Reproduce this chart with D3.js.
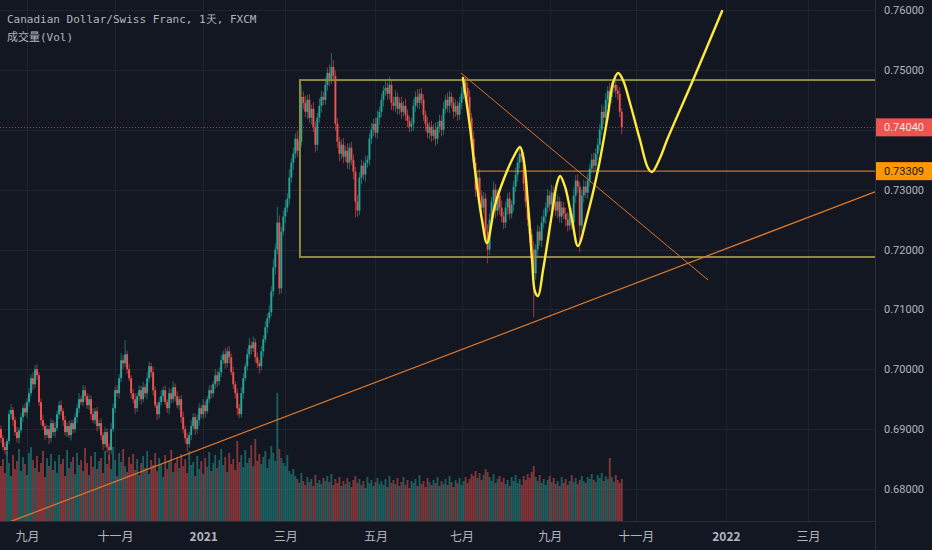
<!DOCTYPE html>
<html>
<head>
<meta charset="utf-8">
<script src="https://cdn.jsdelivr.net/npm/d3@7/dist/d3.min.js"></script>
<style>
html, body { margin: 0; padding: 0; background: #131722; overflow: hidden; }
</style>
</head>
<body>
<div id="chart"></div>
<script>
// daily closes, CADCHF, first bar 2020-08-13 (open of that bar below)
let firstOpen = 0.6900;
let closes = [
    0.6885, 0.6870, 0.6865, 0.6880, 0.6925, 0.6932, 0.6915, 0.6895, 0.6885, 0.6898,
    0.6920, 0.6935, 0.6928, 0.6945, 0.6960, 0.6985, 0.6975, 0.7000, 0.6990, 0.6945,
    0.6915, 0.6905, 0.6890, 0.6900, 0.6885, 0.6910, 0.6895, 0.6902, 0.6925, 0.6940,
    0.6930, 0.6915, 0.6895, 0.6905, 0.6890, 0.6910, 0.6900, 0.6920, 0.6935, 0.6950,
    0.6945, 0.6965, 0.6955, 0.6940, 0.6950, 0.6925, 0.6915, 0.6930, 0.6905, 0.6910,
    0.6890, 0.6875, 0.6895, 0.6870, 0.6865, 0.6900, 0.6935, 0.6965, 0.6960, 0.6985,
    0.7015, 0.7010, 0.7025, 0.7000, 0.6985, 0.6960, 0.6950, 0.6935, 0.6955, 0.6965,
    0.6950, 0.6970, 0.6960, 0.6985, 0.7005, 0.6995, 0.6965, 0.6940, 0.6925, 0.6945,
    0.6955, 0.6965, 0.6945, 0.6935, 0.6960, 0.6950, 0.6970, 0.6955, 0.6940, 0.6950,
    0.6920, 0.6900, 0.6885, 0.6875, 0.6890, 0.6905, 0.6920, 0.6900, 0.6915, 0.6935,
    0.6925, 0.6940, 0.6930, 0.6950, 0.6965, 0.6960, 0.6975, 0.6990, 0.6980, 0.6995,
    0.7015, 0.7025, 0.7010, 0.7030, 0.7020, 0.6995, 0.6975, 0.6960, 0.6935, 0.6925,
    0.6960, 0.6985, 0.7005, 0.7025, 0.7040, 0.7035, 0.7045, 0.7020, 0.7010, 0.7005,
    0.7030, 0.7050, 0.7070, 0.7085, 0.7095, 0.7130, 0.7170, 0.7200, 0.7245, 0.7135,
    0.7230, 0.7255, 0.7270, 0.7285, 0.7320, 0.7345, 0.7360, 0.7385, 0.7365, 0.7380,
    0.7455, 0.7445, 0.7430, 0.7450, 0.7420, 0.7435, 0.7405, 0.7375, 0.7420, 0.7440,
    0.7455, 0.7450, 0.7475, 0.7495, 0.7485, 0.7505, 0.7490, 0.7410, 0.7380, 0.7360,
    0.7375, 0.7355, 0.7365, 0.7345, 0.7370, 0.7350, 0.7330, 0.7280, 0.7265, 0.7320,
    0.7340, 0.7325, 0.7345, 0.7350, 0.7385, 0.7400, 0.7410, 0.7395, 0.7420, 0.7430,
    0.7450, 0.7465, 0.7470, 0.7460, 0.7475, 0.7445, 0.7440, 0.7455, 0.7435, 0.7445,
    0.7430, 0.7440, 0.7425, 0.7415, 0.7405, 0.7410, 0.7440, 0.7455, 0.7445, 0.7460,
    0.7450, 0.7425, 0.7410, 0.7395, 0.7405, 0.7390, 0.7400, 0.7385, 0.7405, 0.7415,
    0.7400, 0.7435, 0.7450, 0.7440, 0.7455, 0.7445, 0.7430, 0.7440, 0.7425, 0.7445,
    0.7460, 0.7480, 0.7470, 0.7455, 0.7420, 0.7385, 0.7345, 0.7300, 0.7320, 0.7290,
    0.7270, 0.7285, 0.7230, 0.7200, 0.7250, 0.7280, 0.7300, 0.7265, 0.7290, 0.7270,
    0.7255, 0.7245, 0.7270, 0.7285, 0.7260, 0.7275, 0.7305, 0.7325, 0.7345, 0.7360,
    0.7355, 0.7310, 0.7280, 0.7250, 0.7225, 0.7200, 0.7160, 0.7200, 0.7230, 0.7215,
    0.7245, 0.7255, 0.7270, 0.7290, 0.7275, 0.7295, 0.7280, 0.7265, 0.7280, 0.7255,
    0.7270, 0.7260, 0.7250, 0.7240, 0.7260, 0.7245, 0.7290, 0.7315, 0.7305, 0.7240,
    0.7290, 0.7305, 0.7295, 0.7315, 0.7335, 0.7350, 0.7340, 0.7360, 0.7375, 0.7400,
    0.7430, 0.7420, 0.7450, 0.7465, 0.7455, 0.7470, 0.7475, 0.7465, 0.7460, 0.7430,
    0.7404
];
// wick above the body / below the body, in pips
let wickUp = [
    6,5,8,4,7,10,5,6,9,5, 7,5,8,6,9,6,10,7,8,5, 6,9,5,7,6,8,5,10,6,7,
    8,5,7,6,9,5,6,8,7,10, 6,9,7,5,8,6,10,5,7,6, 8,5,9,6,7,10,8,6,9,7,
    12,8,24,6,9,5,7,10,6,8, 7,9,5,10,8,6,9,7,5,8, 10,6,8,5,9,7,10,6,8,5,
    7,9,6,8,5,10,7,6,9,8, 6,10,7,5,8,9,6,10,7,8, 9,6,10,7,8,6,9,5,8,7,
    10,8,6,9,12,7,10,6,8,5, 9,7,10,8,12,9,14,10,26,12, 8,10,12,9,14,8,11,9,13,10,
    20,9,12,8,10,7,11,9,8,12, 10,8,12,9,14,23,11,9,10,8, 9,11,8,12,7,10,9,8,11,9,
    10,8,12,7,9,11,8,10,12,9, 10,8,12,9,14,8,10,11,7,9, 10,8,12,9,7,10,11,9,13,8,
    10,9,7,11,8,10,9,12,8,10, 9,11,8,12,10,7,9,11,8,10, 12,8,10,9,11,8,12,9,10,14,
    8,11,9,12,10,8,14,9,11,10, 12,8,10,9,11,7,10,12,9,14, 10,8,11,9,12,10,14,9,11,8,
    10,12,9,11,8,13,10,9,12,8, 11,9,10,12,8,10,13,9,11,8, 10,12,9,11,8,10,12,9,11,10,
    12,9,11,8,13,9,8,10,9,11, 6
];
let wickDown = [
    8,6,7,9,5,8,10,6,7,9, 5,8,6,9,7,5,10,6,8,7, 9,6,8,5,10,7,6,9,5,8,
    7,10,6,8,5,9,7,6,10,8, 5,7,9,6,8,10,5,7,9,6, 8,10,6,9,17,7,5,8,6,9,
    7,10,6,8,5,9,7,10,6,8, 9,5,7,10,6,8,9,5,10,7, 6,9,5,8,10,7,6,9,5,8,
    10,7,9,12,6,8,5,10,7,9, 6,8,10,5,7,9,6,8,10,7, 8,6,9,7,10,5,8,9,12,7,
    6,9,5,8,7,10,6,9,8,12, 7,9,6,10,8,7,9,12,8,10, 9,7,11,8,10,9,12,8,10,11,
    8,10,9,12,8,11,9,13,10,8, 11,9,8,10,12,9,8,11,10,13, 9,11,8,10,12,9,13,26,10,8,
    11,9,12,8,10,9,11,8,10,12, 9,11,8,10,9,12,8,11,10,9, 12,8,10,11,9,8,12,10,9,11,
    8,10,12,9,11,10,8,12,9,10, 11,9,8,10,12,9,11,8,10,9, 10,9,12,8,11,13,10,12,9,11,
    14,10,12,23,9,11,10,13,8,12, 10,11,9,12,10,8,11,9,12,10, 9,12,10,11,13,9,73,10,12,9,
    11,10,12,9,11,10,12,9,13,10, 11,9,12,10,8,11,9,12,10,45, 10,12,9,11,10,8,12,9,11,10,
    9,11,10,12,9,10,8,11,10,9, 12
];
// volume, thousands
let volumes = [
    55,62,48,70,58,45,66,52,60,72, 50,64,57,46,68,74,61,53,65,49, 58,70,44,63,55,67,51,60,48,66,
    57,62,45,71,53,59,64,47,68,56, 61,50,73,58,46,65,54,69,52,60, 63,48,70,57,66,52,74,61,45,68,
    59,72,55,49,64,57,67,51,62,46, 58,65,53,70,47,61,56,68,50,63, 57,44,66,52,60,71,49,58,64,53,
    67,55,62,48,70,56,59,45,65,52, 60,47,63,54,69,50,58,66,53,61, 72,56,64,49,68,57,62,51,80,59,
    66,54,71,58,63,76,55,82,60,67, 57,64,70,53,62,75,68,60,128,72, 63,58,55,66,50,47,52,45,42,38,
    48,40,36,44,39,42,35,46,38,41, 37,43,40,45,39,47,36,42,38,44, 35,40,37,43,39,34,41,45,38,42,
    36,40,33,44,38,41,35,39,43,37, 40,36,42,34,45,38,41,37,43,35, 39,44,36,41,33,40,38,42,35,46,
    37,40,34,43,39,36,41,38,44,35, 40,37,42,36,45,39,34,41,38,43, 36,40,44,38,42,47,45,50,43,48,
    41,46,52,49,44,40,47,38,42,45, 39,43,37,41,35,44,40,46,38,42, 36,45,41,47,43,49,55,44,40,46,
    38,42,36,41,45,39,43,37,40,35, 44,38,42,36,40,46,39,43,37,41, 45,40,38,44,42,47,41,39,46,43,
    48,40,45,42,63,44,39,46,41,38, 42
];

let priceTicks = [0.68, 0.69, 0.70, 0.71, 0.72, 0.73, 0.74, 0.75, 0.76];
let monthNames = ["一月","二月","三月","四月","五月","六月","七月","八月","九月","十月","十一月","十二月"];
let titleText = "Canadian Dollar/Swiss Franc, 1天, FXCM";
let volText = "成交量(Vol)";

// drawings, as [bar index, price]
let boxCorners = [[149.3, 0.7483], [436, 0.71875]];
let levelLine = [[237.7, 0.73309]];
let trendUp = [[5.5, 0.67466], [436.4, 0.72961]];
let trendDown = [[229.7, 0.74948], [353.1, 0.71491]];
let scenario = [
    [230.7,0.74864],[234.2,0.74046],[236.7,0.73328],[240.2,0.72493],[242.7,0.72109],
    [246.7,0.72744],[251.7,0.73228],[256.2,0.73562],[259.2,0.73712],[261.2,0.73462],
    [263.2,0.72744],[265.2,0.71825],[266.7,0.71291],[268.2,0.71224],[270.7,0.71658],
    [275.2,0.72610],[277.7,0.73111],[279.2,0.73228],[281.7,0.73044],[285.2,0.72493],
    [288.1,0.72059],[292.6,0.72543],[298.1,0.73328],[303.1,0.74247],[305.6,0.74781],
    [308.2,0.74948],[310.6,0.74831],[314.1,0.74447],[319.1,0.73829],[323.1,0.73361],
    [325.1,0.73295],[329.1,0.73528],[332.6,0.73829],[345.6,0.74831],[360.1,0.75983]
];

function config(){
    let width = 932;
    let height = 550;
    let paneW = 875;
    let paneH = 521;
    let svg = d3.select("#chart")
                .append("svg")
                .attr("width", width)
                .attr("height", height)
                .style("display", "block")
                .style("background", "#131722");
    return { width, height, paneW, paneH, svg };
}

function buildBars(){
    let prev = firstOpen;
    return closes.map(function(c, i){
        let o = prev;
        prev = c;
        return {
            i: i,
            o: o,
            c: c,
            h: Math.max(o, c) + wickUp[i] / 10000,
            l: Math.min(o, c) - wickDown[i] / 10000,
            v: volumes[i],
            up: c >= o
        };
    });
}

function buildDates(n){
    let dates = [];
    let d = new Date(2020, 7, 13);
    while (dates.length < n){
        let wd = d.getDay();
        if (wd != 0 && wd != 6) dates.push(new Date(d));
        d.setDate(d.getDate() + 1);
    }
    return dates;
}

function scales(cfg){
    let x = d3.scaleLinear().domain([13, 403]).range([27, 808]);
    let y = d3.scaleLinear().domain([0.68, 0.76]).range([489, 10]);
    let yVol = d3.scaleLinear().domain([0, d3.max(volumes)]).range([cfg.paneH, cfg.paneH - 128]);
    return { x, y, yVol };
}

function draw(cfg, sc, bars){
    let { svg, paneW, paneH, width, height } = cfg;
    let { x, y, yVol } = sc;
    let bw = 1.9;

    svg.append("clipPath").attr("id", "pane")
        .append("rect").attr("width", paneW).attr("height", paneH);

    let dates = buildDates(460);
    let tickIdx = [];
    for (let i = 1; i < dates.length; i++){
        let m = dates[i].getMonth();
        if (m != dates[i-1].getMonth() && m % 2 == 0 && x(i) < paneW) tickIdx.push(i);
    }

    let pane = svg.append("g").attr("clip-path", "url(#pane)");

    // grid
    pane.selectAll(".hg").data(priceTicks).enter().append("line")
        .attr("x1", 0).attr("x2", paneW)
        .attr("y1", d => Math.round(y(d)) + 0.5).attr("y2", d => Math.round(y(d)) + 0.5)
        .attr("stroke", "#1f2330");
    pane.selectAll(".vg").data(tickIdx).enter().append("line")
        .attr("y1", 0).attr("y2", paneH)
        .attr("x1", d => Math.round(x(d)) + 0.5).attr("x2", d => Math.round(x(d)) + 0.5)
        .attr("stroke", "#1f2330");

    // volume
    pane.selectAll(".vol").data(bars).enter().append("rect")
        .attr("x", d => x(d.i) - bw / 2)
        .attr("width", bw)
        .attr("y", d => yVol(d.v))
        .attr("height", d => paneH - yVol(d.v))
        .attr("fill", d => d.up ? "rgba(38,166,154,0.5)" : "rgba(239,83,80,0.5)");

    // candles
    pane.selectAll(".wick").data(bars).enter().append("line")
        .attr("x1", d => x(d.i)).attr("x2", d => x(d.i))
        .attr("y1", d => y(d.h)).attr("y2", d => y(d.l))
        .attr("stroke", d => d.up ? "#26a69a" : "#ef5350")
        .attr("stroke-opacity", 0.6)
        .attr("stroke-width", 1);
    pane.selectAll(".body").data(bars).enter().append("rect")
        .attr("x", d => x(d.i) - bw / 2)
        .attr("width", bw)
        .attr("y", d => y(Math.max(d.o, d.c)))
        .attr("height", d => Math.max(1, Math.abs(y(d.o) - y(d.c))))
        .attr("fill", d => d.up ? "#26a69a" : "#ef5350");

    // last price line
    let last = bars[bars.length - 1];
    pane.append("line")
        .attr("x1", 0).attr("x2", paneW)
        .attr("y1", Math.round(y(last.c)) + 0.5).attr("y2", Math.round(y(last.c)) + 0.5)
        .attr("stroke", "rgba(239,83,80,0.7)")
        .attr("stroke-dasharray", "1,2");

    // box
    let bx = x(boxCorners[0][0]);
    let byTop = y(boxCorners[0][1]);
    let byBot = y(boxCorners[1][1]);
    pane.append("rect")
        .attr("x", bx).attr("y", byTop)
        .attr("width", x(boxCorners[1][0]) - bx + 20)
        .attr("height", byBot - byTop)
        .attr("fill", "none")
        .attr("stroke", "#8f8843")
        .attr("stroke-width", 2);

    // horizontal level
    pane.append("line")
        .attr("x1", x(levelLine[0][0])).attr("x2", paneW)
        .attr("y1", y(levelLine[0][1])).attr("y2", y(levelLine[0][1]))
        .attr("stroke", "#f08c22").attr("stroke-width", 1);

    // trend lines
    let slope = (trendUp[1][1] - trendUp[0][1]) / (trendUp[1][0] - trendUp[0][0]);
    let i0 = x.invert(0), i1 = x.invert(paneW);
    pane.append("line")
        .attr("x1", x(i0)).attr("y1", y(trendUp[0][1] + slope * (i0 - trendUp[0][0])))
        .attr("x2", x(i1)).attr("y2", y(trendUp[0][1] + slope * (i1 - trendUp[0][0])))
        .attr("stroke", "#e0782a").attr("stroke-width", 1.2);
    pane.append("line")
        .attr("x1", x(trendDown[0][0])).attr("y1", y(trendDown[0][1]))
        .attr("x2", x(trendDown[1][0])).attr("y2", y(trendDown[1][1]))
        .attr("stroke", "#d9732a").attr("stroke-width", 1);

    // scenario path
    pane.append("path")
        .datum(scenario)
        .attr("d", d3.line().x(d => x(d[0])).y(d => y(d[1])).curve(d3.curveCatmullRom.alpha(0.5)))
        .attr("fill", "none")
        .attr("stroke", "#ffeb3b")
        .attr("stroke-width", 2.4)
        .attr("stroke-linecap", "round");

    // borders
    svg.append("line").attr("x1", paneW + 0.5).attr("x2", paneW + 0.5).attr("y1", 0).attr("y2", height)
        .attr("stroke", "#2a2e39");
    svg.append("line").attr("x1", 0).attr("x2", paneW).attr("y1", paneH + 0.5).attr("y2", paneH + 0.5)
        .attr("stroke", "#2a2e39");

    // price labels
    let tags = [
        { p: last.c, fill: "#ef5350", color: "#f2e4e4" },
        { p: levelLine[0][1], fill: "#ff9800", color: "#131722" }
    ];

    // price axis (labels hidden by a tag are left out)
    let axisTicks = priceTicks.filter(p => tags.every(t => Math.abs(y(p) - y(t.p)) > 12));
    let pa = svg.append("g")
        .attr("transform", "translate(" + paneW + ",0)")
        .call(d3.axisRight(y).tickValues(axisTicks).tickSize(0).tickPadding(9).tickFormat(d3.format(".5f")));
    pa.select(".domain").remove();
    pa.selectAll("text")
        .attr("fill", "#b2b5be")
        .style("font-family", "Roboto, 'Liberation Sans', sans-serif")
        .style("font-size", "11px");

    // time axis
    let ta = svg.append("g")
        .attr("transform", "translate(0," + paneH + ")")
        .call(d3.axisBottom(x).tickValues(tickIdx).tickSize(0).tickPadding(11)
            .tickFormat(function(i){
                let dt = dates[i];
                return dt.getMonth() == 0 ? String(dt.getFullYear()) : monthNames[dt.getMonth()];
            }));
    ta.select(".domain").remove();
    ta.selectAll("text")
        .attr("fill", "#b2b5be")
        .style("font-family", "'Noto Sans CJK SC', Roboto, sans-serif")
        .style("font-size", "12px")
        .style("font-weight", d => dates[d].getMonth() == 0 ? "bold" : "normal");

    tags.forEach(function(t){
        let ty = y(t.p);
        svg.append("rect")
            .attr("x", paneW + 1).attr("y", ty - 9)
            .attr("width", width - paneW - 1).attr("height", 18)
            .attr("fill", t.fill);
        svg.append("text")
            .attr("x", paneW + 9).attr("y", ty)
            .attr("dy", "0.36em")
            .attr("fill", t.color)
            .style("font-family", "Roboto, 'Liberation Sans', sans-serif")
            .style("font-size", "11px")
            .text(d3.format(".5f")(t.p));
    });

    // legend text
    svg.append("text")
        .attr("x", 7).attr("y", 23)
        .attr("fill", "#b2b5be")
        .style("font-family", "'DejaVu Sans Mono', monospace")
        .style("font-size", "11px")
        .text(titleText);
    svg.append("text")
        .attr("x", 7).attr("y", 41)
        .attr("fill", "#b2b5be")
        .style("font-family", "'DejaVu Sans Mono', 'Noto Sans CJK SC', monospace")
        .style("font-size", "11px")
        .text(volText);
}

let cfg = config();
let sc = scales(cfg);
let bars = buildBars();
draw(cfg, sc, bars);
</script>
</body>
</html>
